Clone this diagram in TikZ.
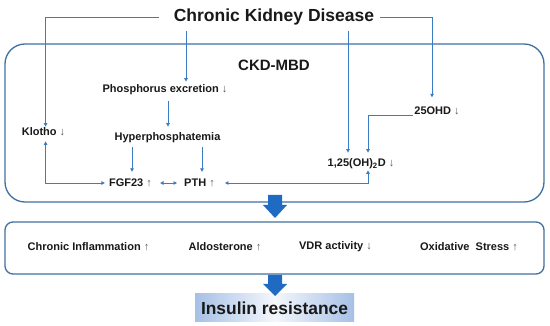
\documentclass[tikz,border=0pt]{standalone}
\usepackage{fontspec}
\setmainfont{Liberation Sans}
\usetikzlibrary{arrows.meta}
\definecolor{ln}{HTML}{3A7DC2}
\definecolor{bx}{HTML}{41709F}
\definecolor{barr}{HTML}{1F6BC4}
\definecolor{irL}{HTML}{A6C0E6}
\definecolor{irM}{HTML}{F4F7FC}
\newcommand{\upa}{{\mdseries\color{black!65}↑}}
\newcommand{\dna}{{\mdseries\color{black!65}↓}}
\begin{document}
\begin{tikzpicture}[x=1pt,y=-1pt,
  lbl/.style={font=\bfseries\fontsize{11}{13}\selectfont, inner sep=1pt, text=black!90},
  ttl/.style={font=\bfseries\fontsize{17.5}{20}\selectfont, inner sep=2pt, text=black!90},
  box/.style={draw=bx, line width=1.3pt},
  conn/.style={draw=ln, line width=0.9pt},
  tip/.style={-{Triangle[length=3.5pt,width=3.5pt]}},
  tips/.style={{Triangle[length=3.5pt,width=3.5pt]}-{Triangle[length=3.5pt,width=3.5pt]}}]
\useasboundingbox[fill=white] (0,0) rectangle (550,326);

% boxes
\node[box, rounded corners=20pt, minimum width=539pt, minimum height=158pt] (mbd) at (274.5,123) {};
\node[box, rounded corners=8pt, minimum width=539pt, minimum height=52pt] (fx) at (274.5,248) {};

% texts
\node[ttl] (ckd) at (274,17) {Chronic Kidney Disease};
\node[font=\bfseries\fontsize{15}{18}\selectfont, text=black!90] (mbdlbl) at (274,65) {CKD-MBD};
\node[lbl] (phos) at (165,90) {Phosphorus excretion \dna};
\node[lbl] (hyper) at (167.5,138) {Hyperphosphatemia};
\node[lbl] (klotho) at (43.5,132) {Klotho \dna};
\node[lbl] (fgf) at (130.5,183) {FGF23 \upa};
\node[lbl] (pth) at (199.5,183) {PTH \upa};
\node[lbl] (ohd) at (437,110.5) {25OHD \dna};
\node[lbl] (vitd) at (361,164) {1,25(OH)\textsubscript{2}D \dna};

\node[lbl] (infl) at (88.5,247) {Chronic Inflammation \upa};
\node[lbl] (aldo) at (225,247) {Aldosterone \upa};
\node[lbl] (vdr) at (335.5,247) {VDR activity \dna};
\node[lbl] (oxs) at (469,247) {Oxidative\ \ Stress \upa};

\node[font=\bfseries\fontsize{17.4}{20}\selectfont, text=black!90, minimum width=159pt, minimum height=28pt, inner sep=0pt,
  left color=irL, right color=irL, middle color=irM] (ir) at (274.5,308) {Insulin resistance};

% connector coordinates
\coordinate (kl) at (45.6,17);
\coordinate (kr) at (432,17);
\coordinate (c1) at (186,31);
\coordinate (c2) at (348,31);
\coordinate (vx) at (368,0);
\coordinate (kx) at (45.6,0);

% connectors
\draw[conn,tip,shorten <=13pt] (ckd.west) -- (kl) -- (kl |- klotho.north);
\draw[conn,tip,shorten <=4pt,shorten >=8pt] (ckd.east) -- (kr) -- (kr |- ohd.north);
\draw[conn,tip,shorten >=2pt] (c1) -- (c1 |- phos.north);
\draw[conn,tip,shorten >=5pt] (c2) -- (c2 |- vitd.north);
\draw[conn,tip,shorten <=5pt,shorten >=5pt] (phos.south -| 168,0) -- (hyper.north -| 168,0);
\draw[conn,tip,shorten <=3pt,shorten >=6pt] (hyper.south -| 132,0) -- (fgf.north -| 132,0);
\draw[conn,tip,shorten <=3pt,shorten >=6pt] (hyper.south -| 202,0) -- (pth.north -| 202,0);
\draw[conn,tips,shorten <=7pt,shorten >=6pt] (fgf.east) -- (pth.west);
\draw[conn,tips,shorten <=4pt,shorten >=3pt] (kx |- klotho.south) |- (fgf.west);
\draw[conn,tip,shorten >=5pt] (ohd.south west) -| (vx |- vitd.north);
\draw[conn,tips,shorten <=9pt] (pth.east) -- (pth.east -| vx) -- (vx |- vitd.south);

% block arrows
\fill[barr] (268,195) -- (282,195) -- (282,205) -- (287,205) -- (275,218) -- (263,205) -- (268,205) -- cycle;
\fill[barr] (268,275) -- (282,275) -- (282,284) -- (287,284) -- (275,296) -- (263,284) -- (268,284) -- cycle;
\end{tikzpicture}
\end{document}
